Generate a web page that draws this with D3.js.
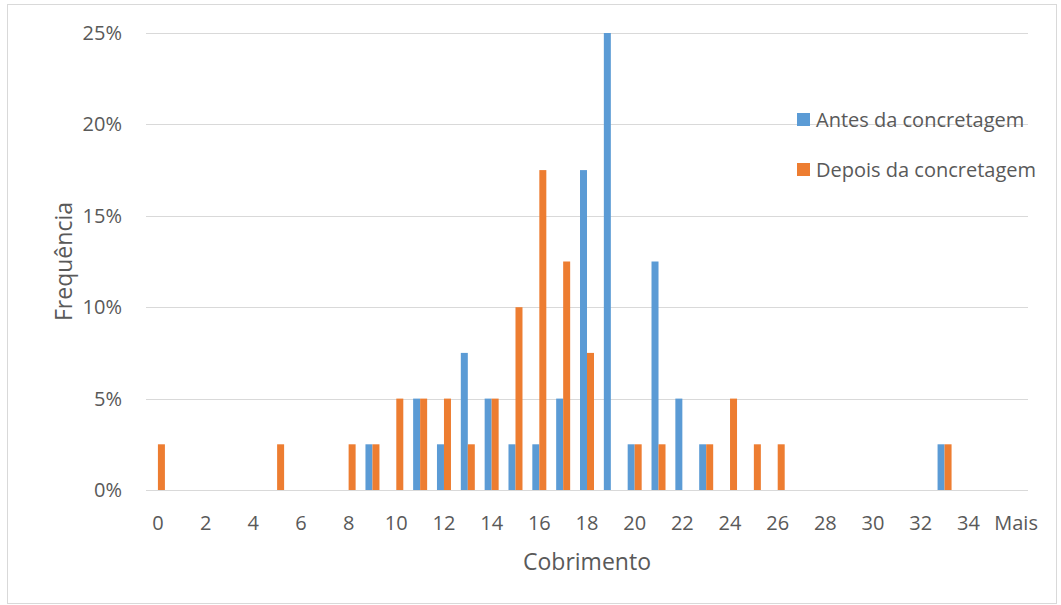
<!DOCTYPE html>
<html>
<head>
<meta charset="utf-8">
<script src="https://cdn.jsdelivr.net/npm/d3@7"></script>
<style>
  html, body { margin: 0; padding: 0; background: #fff; }
  svg { display: block; font-family: "Open Sans", Lato, sans-serif; }
</style>
</head>
<body>
<svg id="chart" width="1061" height="605"></svg>
<script>
// Histogram bins (cover length) and relative frequency of each series
const categories = ["0","1","2","3","4","5","6","7","8","9","10","11","12","13","14","15","16","17","18","19","20","21","22","23","24","25","26","27","28","29","30","31","32","33","34","35","Mais"];
const antes  = [0,0,0,0,0,0,0,0,0,2.5,0,5,2.5,7.5,5,2.5,2.5,5,17.5,25,2.5,12.5,5,2.5,0,0,0,0,0,0,0,0,0,2.5,0,0,0];
const depois = [2.5,0,0,0,0,2.5,0,0,2.5,2.5,5,5,5,2.5,5,10,17.5,12.5,7.5,0,2.5,2.5,0,2.5,5,2.5,2.5,0,0,0,0,0,0,2.5,0,0,0];
const seriesNames = ["Antes da concretagem", "Depois da concretagem"];
const seriesColors = ["#5B9BD5", "#ED7D31"];
const yTicks = [0, 5, 10, 15, 20, 25];

const svg = d3.select("#chart");
const W = 1061, H = 605;
const plot = { left: 146, right: 1028, top: 33, bottom: 490 };
const textColor = "#595959";

// Outer chart frame
svg.append("rect")
  .attr("x", 7.5).attr("y", 4.5)
  .attr("width", W - 12).attr("height", H - 6)
  .attr("fill", "#fff").attr("stroke", "#d9d9d9").attr("stroke-width", 1);

const x = d3.scaleBand().domain(categories).range([plot.left, plot.right]).padding(0);
const y = d3.scaleLinear().domain([0, 25]).range([plot.bottom, plot.top]);

// Horizontal gridlines
svg.append("g").selectAll("line").data(yTicks).join("line")
  .attr("x1", plot.left).attr("x2", plot.right)
  .attr("y1", d => Math.round(y(d)) + 0.5).attr("y2", d => Math.round(y(d)) + 0.5)
  .attr("stroke", "#d9d9d9").attr("stroke-width", 1);

// Y axis labels
svg.append("g").selectAll("text").data(yTicks).join("text")
  .attr("x", 122).attr("y", d => y(d))
  .attr("dy", "0.35em")
  .attr("text-anchor", "end")
  .attr("fill", textColor).attr("font-size", 20)
  .text(d => d + "%");

// Grouped bars: one sub-band per series inside each category
const barW = 7;
const groups = [antes, depois];
groups.forEach((vals, si) => {
  svg.append("g").selectAll("rect").data(vals).join("rect")
    .attr("x", (d, i) => x(categories[i]) + x.bandwidth() / 2 - barW + si * barW)
    .attr("width", barW)
    .attr("y", d => y(d))
    .attr("height", d => y(0) - y(d))
    .attr("fill", seriesColors[si]);
});

// X axis labels, every second category
svg.append("g").selectAll("text")
  .data(categories.filter((c, i) => i % 2 === 0))
  .join("text")
  .attr("x", d => x(d) + x.bandwidth() / 2)
  .attr("y", 530)
  .attr("text-anchor", "middle")
  .attr("fill", textColor).attr("font-size", 20)
  .text(d => d);

// Axis titles
svg.append("text")
  .attr("x", (plot.left + plot.right) / 2).attr("y", 570)
  .attr("text-anchor", "middle")
  .attr("fill", textColor).attr("font-size", 23)
  .text("Cobrimento");

svg.append("text")
  .attr("transform", `translate(72, ${(plot.top + plot.bottom) / 2}) rotate(-90)`)
  .attr("text-anchor", "middle")
  .attr("fill", textColor).attr("font-size", 23)
  .text("Frequência");

// Legend
const legend = svg.append("g");
seriesNames.forEach((name, i) => {
  const base = 127 + i * 50;
  legend.append("rect")
    .attr("x", 797).attr("y", base - 14)
    .attr("width", 13).attr("height", 13)
    .attr("fill", seriesColors[i]);
  legend.append("text")
    .attr("x", 816).attr("y", base)
    .attr("fill", textColor).attr("font-size", 20)
    .text(name);
});
</script>
</body>
</html>
